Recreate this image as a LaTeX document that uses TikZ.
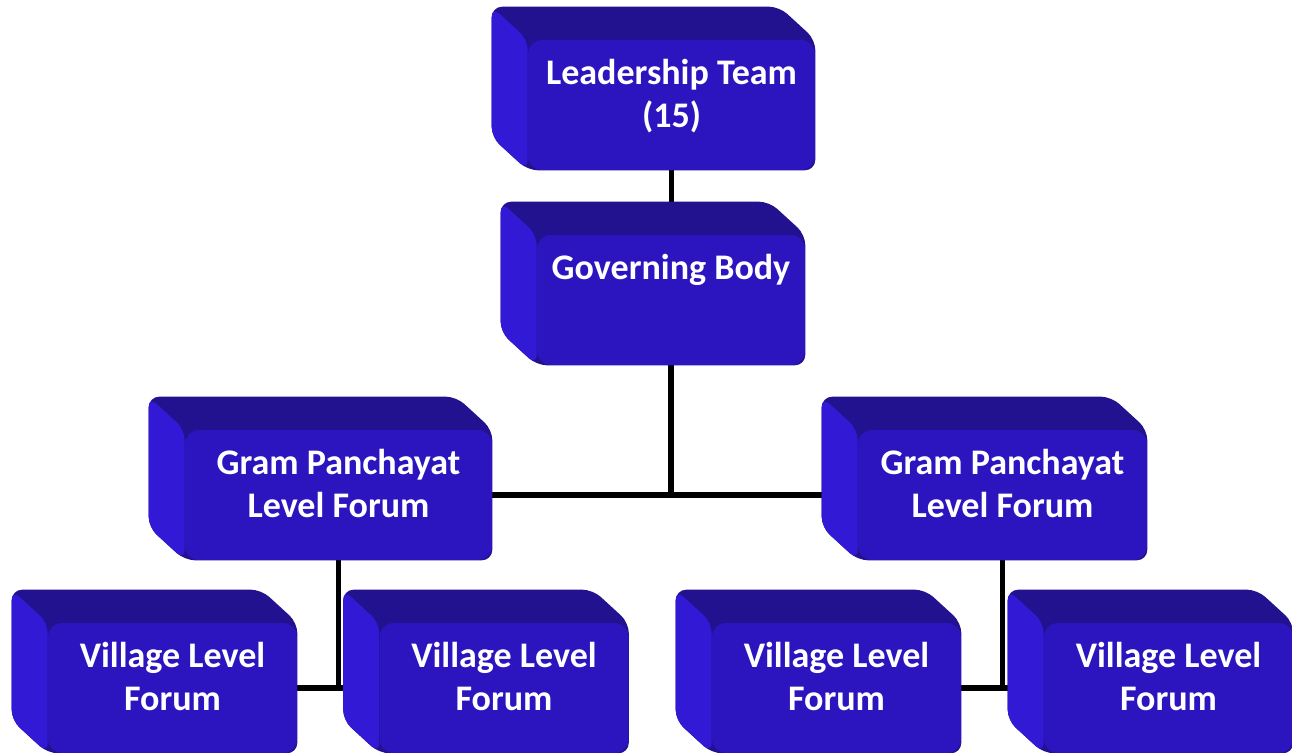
\documentclass[tikz,border=0pt]{standalone}
\usepackage{fontspec}
\setmainfont{Carlito}
\usetikzlibrary{positioning,backgrounds}
\pgfdeclarelayer{lines}
\pgfsetlayers{lines,background,main}
\definecolor{frontblue}{HTML}{2C15BE}
\definecolor{topblue}{HTML}{231290}
\definecolor{sideblue}{HTML}{3219D6}
\tikzset{
  face/.style={fill=frontblue, rounded corners=8pt, minimum height=2.6cm, inner sep=0pt},
  boxtext/.style={text=white, font=\fontsize{20.5}{24.5}\selectfont\bfseries, align=center, inner sep=0pt, anchor=north},
  link/.style={line width=3.1pt, black}
}
% back and side faces of a box, behind its front face
\newcommand{\extrude}[1]{%
  \begin{scope}[on background layer]
    \fill[topblue, rounded corners=6pt] ([shift={(-36,-33)}]#1.north west) -- ([shift={(-36,-33)}]#1.north east)
      -- (#1.north east) -- (#1.south east) -- (#1.south west) -- ([shift={(-36,-33)}]#1.south west) -- cycle;
    \fill[sideblue, rounded corners=6pt] ([shift={(-36,-33)}]#1.north west) -- ([shift={(-36,-33)}]#1.south west)
      -- (#1.south west) -- (#1.north west) -- cycle;
  \end{scope}}
\begin{document}
\begin{tikzpicture}[x=0.02cm, y=-0.02cm]
\useasboundingbox (0,0) rectangle (1292,753);
% top levels
\node[face, minimum width=5.74cm] (lead) at (671.5,105) {};
\extrude{lead}
\node[boxtext, below=0.38cm of lead.north] (leadtext) {Leadership Team\\(15)};
\node[face, minimum width=5.36cm] (gov) at (671,300) {};
\extrude{gov}
\node[boxtext, below=0.38cm of gov.north] (govtext) {Governing Body};
% gram panchayat level
\node[face, minimum width=6.14cm] (gpl) at (338.5,495) {};
\extrude{gpl}
\node[boxtext, below=0.38cm of gpl.north] (gpltext) {Gram Panchayat\\Level Forum};
\node[face, minimum width=5.78cm] (gpr) at (1002.5,495) {};
\extrude{gpr}
\node[boxtext, below=0.38cm of gpr.north] (gprtext) {Gram Panchayat\\Level Forum};
% village level
\foreach \name/\cx in {vla/172.5, vlb/504, vlc/836.5, vld/1168.5}
{
    \node[face, minimum width=4.98cm] (\name) at (\cx,688) {};
    \extrude{\name}
    \node[boxtext, below=0.38cm of \name.north] (\name text) {Village Level\\Forum};
}
% connectors
\begin{pgfonlayer}{lines}
\draw[link] (lead.south) -- (lead.south |- gov.north);
\draw[link] (gov.south) |- (gpl.east);
\draw[link] (gov.south) |- (gpr.west);
\draw[link] (gpl.south) |- (vla.east);
\draw[link] (gpl.south) |- (vlb.west);
\draw[link] (gpr.south) |- (vlc.east);
\draw[link] (gpr.south) |- (vld.west);
\end{pgfonlayer}
\end{tikzpicture}
\end{document}
